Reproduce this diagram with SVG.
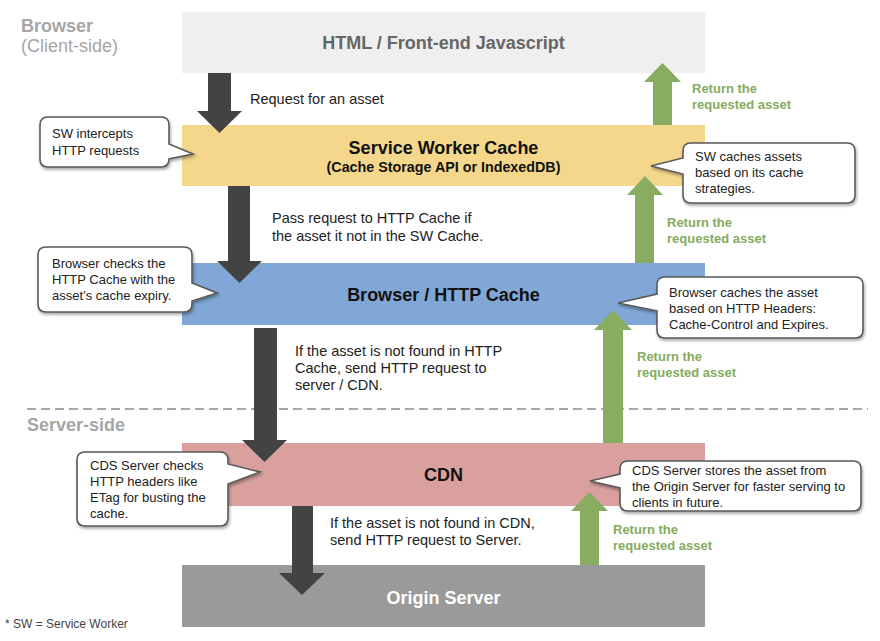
<svg xmlns="http://www.w3.org/2000/svg" width="880" height="641" viewBox="0 0 880 641">
<defs>
<filter id="sh" x="-10%" y="-10%" width="130%" height="140%">
<feDropShadow dx="1" dy="2" stdDeviation="1.5" flood-color="#000" flood-opacity="0.35"/>
</filter>
</defs>
<style>
text{font-family:"Liberation Sans",Arial,sans-serif}
.title{font-size:18px;font-weight:bold;text-anchor:middle}
.side{font-size:18px;fill:#a6a6a6}
.body{font-size:14.5px;fill:#222}
.note{font-size:13px;fill:#222}
.ret{font-size:13px;font-weight:bold;fill:#86ab5e}
.callout{fill:#fff;stroke:#5a5a5a;stroke-width:1.6;filter:url(#sh)}
.dark{fill:#434343}
.green{fill:#88ad60}
</style>
<rect width="880" height="641" fill="#fff"/>

<text class="side" x="21" y="32" font-weight="bold">Browser</text>
<text class="side" x="21" y="52">(Client-side)</text>
<text class="side" x="27" y="431" font-weight="bold">Server-side</text>
<line x1="27" y1="409" x2="868" y2="409" stroke="#8a8a8a" stroke-width="1.5" stroke-dasharray="9,5"/>

<g id="html">
<rect x="182" y="12" width="523" height="61" fill="#efefef"/>
<text class="title" x="443.5" y="49" fill="#666">HTML / Front-end Javascript</text>
</g>
<g id="sw-cache">
<rect x="182" y="125" width="523" height="61" fill="#f4d78b"/>
<text class="title" x="443.5" y="154" fill="#111">Service Worker Cache</text>
<text x="443.5" y="172" font-size="14.3" font-weight="bold" text-anchor="middle" fill="#111">(Cache Storage API or IndexedDB)</text>
</g>
<g id="http-cache">
<rect x="182" y="263" width="523" height="62" fill="#80a7d6"/>
<text class="title" x="443.5" y="301" fill="#111">Browser / HTTP Cache</text>
</g>
<g id="cdn">
<rect x="182" y="443" width="523" height="63" fill="#d9a09e"/>
<text class="title" x="443.5" y="481" fill="#111">CDN</text>
</g>
<g id="origin">
<rect x="182" y="565" width="523" height="62" fill="#9a9a9a"/>
<text class="title" x="443.5" y="604" fill="#fff">Origin Server</text>
</g>

<g id="connectors">
<polygon class="dark" points="208,73 231,73 231,111 242,111 219.5,133 197,111 208,111"/>
<polygon class="dark" points="228,186 250,186 250,261 262,261 239.5,283 217,261 228,261"/>
<polygon class="dark" points="254,328 277,328 277,440 287,440 264.5,462 242,440 254,440"/>
<polygon class="dark" points="292,506 313,506 313,573 325,573 302,595 279,573 292,573"/>

<polygon class="green" points="653,125 672,125 672,82 681,82 662.5,63 644,82 653,82"/>
<polygon class="green" points="635,263 654,263 654,195 663,195 645,176 627,195 635,195"/>
<polygon class="green" points="603,443 623,443 623,330 632,330 613,310 594,330 603,330"/>
<polygon class="green" points="580,565 599,565 599,511 608,511 589.5,492 571,511 580,511"/>

<text class="body" x="250" y="104">Request for an asset</text>
<text class="body" x="272" y="223">Pass request to HTTP Cache if</text>
<text class="body" x="272" y="240.5">the asset it not in the SW Cache.</text>
<text class="body" x="295" y="356">If the asset is not found in HTTP</text>
<text class="body" x="295" y="373">Cache, send HTTP request to</text>
<text class="body" x="295" y="390">server / CDN.</text>
<text class="body" x="330" y="528">If the asset is not found in CDN,</text>
<text class="body" x="330" y="545">send HTTP request to Server.</text>

<text class="ret" x="692" y="93">Return the</text>
<text class="ret" x="692" y="109">requested asset</text>
<text class="ret" x="667" y="227">Return the</text>
<text class="ret" x="667" y="243">requested asset</text>
<text class="ret" x="637" y="361">Return the</text>
<text class="ret" x="637" y="377">requested asset</text>
<text class="ret" x="613" y="534">Return the</text>
<text class="ret" x="613" y="550">requested asset</text>
</g>

<g id="note-sw-intercepts">
<path class="callout" d="M48,117 H161 Q169,117 169,125 V144 L193,154 L169,159 Q169,167 161,167 H48 Q40,167 40,159 V125 Q40,117 48,117 Z"/>
<text class="note" x="52" y="138">SW intercepts</text>
<text class="note" x="52" y="155">HTTP requests</text>
</g>
<g id="note-sw-caches">
<path class="callout" d="M691,143 H847 Q855,143 855,151 V195 Q855,203 847,203 H691 Q683,203 683,195 V174 L651,166 L683,158 V151 Q683,143 691,143 Z"/>
<text class="note" x="695" y="161">SW caches assets</text>
<text class="note" x="695" y="177">based on its cache</text>
<text class="note" x="695" y="193">strategies.</text>
</g>
<g id="note-browser-checks">
<path class="callout" d="M46,247 H184 Q192,247 192,255 V283 L217,293 L192,301 V304 Q192,312 184,312 H46 Q38,312 38,304 V255 Q38,247 46,247 Z"/>
<text class="note" x="52" y="268">Browser checks the</text>
<text class="note" x="52" y="284">HTTP Cache with the</text>
<text class="note" x="52" y="300">asset’s cache expiry.</text>
</g>
<g id="note-browser-caches">
<path class="callout" d="M665,277 H855 Q863,277 863,285 V330 Q863,338 855,338 H665 Q657,338 657,330 V311 L618,303 L657,294 V285 Q657,277 665,277 Z"/>
<text class="note" x="669" y="297">Browser caches the asset</text>
<text class="note" x="669" y="313">based on HTTP Headers:</text>
<text class="note" x="669" y="329">Cache-Control and Expires.</text>
</g>
<g id="note-cds-checks">
<path class="callout" d="M85,452 H220 Q228,452 228,460 V464 L260,472 L228,484 V518 Q228,526 220,526 H85 Q77,526 77,518 V460 Q77,452 85,452 Z"/>
<text class="note" x="90" y="470">CDS Server checks</text>
<text class="note" x="90" y="486">HTTP headers like</text>
<text class="note" x="90" y="502">ETag for busting the</text>
<text class="note" x="90" y="518">cache.</text>
</g>
<g id="note-cds-stores">
<path class="callout" d="M628,461 H853 Q861,461 861,469 V503 Q861,511 853,511 H628 Q620,511 620,503 V488 L590,481 L620,474 V469 Q620,461 628,461 Z"/>
<text class="note" x="632" y="475">CDS Server stores the asset from</text>
<text class="note" x="632" y="491">the Origin Server for faster serving to</text>
<text class="note" x="632" y="507">clients in future.</text>
</g>

<text x="5" y="628" font-size="12" fill="#444">* SW = Service Worker</text>
</svg>
